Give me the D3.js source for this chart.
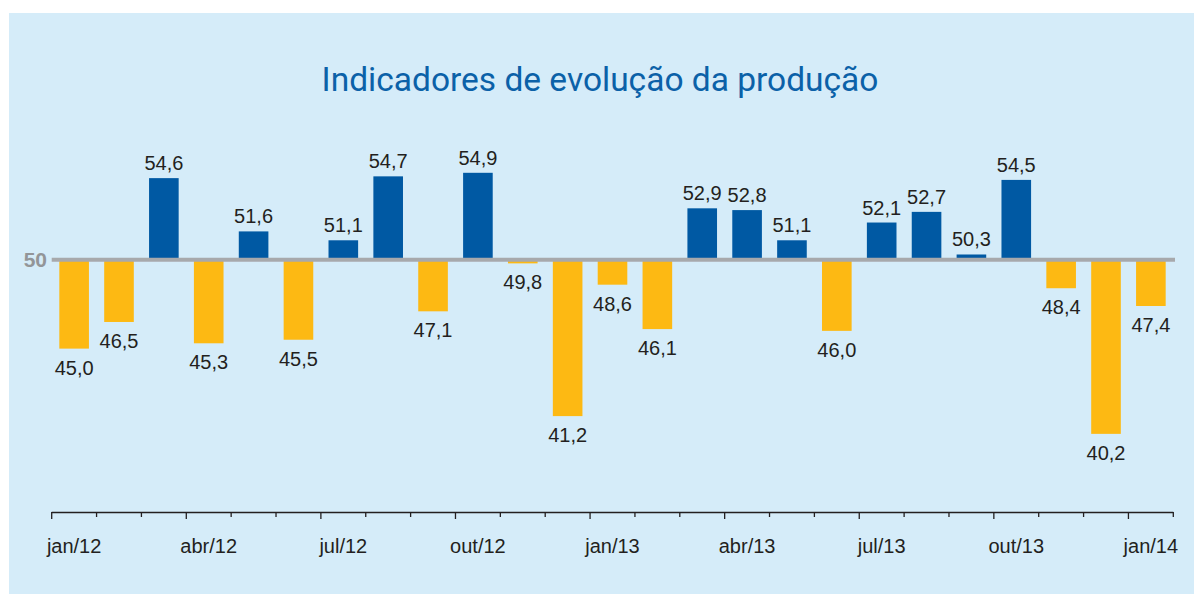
<!DOCTYPE html>
<html lang="pt">
<head>
  <meta charset="UTF-8">
  <title>Indicadores de evolução da produção</title>
  <script src="https://d3js.org/d3.v7.min.js"></script>
  <style>
    body { margin: 0; background: #fff; }
    svg { display: block; font-family: 'Liberation Sans', Arial, sans-serif; }
  </style>
</head>
<body>
  <div id="wrapper"></div>
  <script>
    const months = ["jan/12", "fev/12", "mar/12", "abr/12", "mai/12", "jun/12", "jul/12", "ago/12", "set/12",
      "out/12", "nov/12", "dez/12", "jan/13", "fev/13", "mar/13", "abr/13", "mai/13", "jun/13", "jul/13",
      "ago/13", "set/13", "out/13", "nov/13", "dez/13", "jan/14"]
    const values = [45.0, 46.5, 54.6, 45.3, 51.6, 45.5, 51.1, 54.7, 47.1, 54.9, 49.8, 41.2, 48.6,
      46.1, 52.9, 52.8, 51.1, 46.0, 52.1, 52.7, 50.3, 54.5, 48.4, 40.2, 47.4]
    const tickLabels = ["jan/12", "abr/12", "jul/12", "out/12", "jan/13", "abr/13", "jul/13", "out/13", "jan/14"]
    const baseline = 50

    const width = 1194
    const height = 594

    const svg = d3.select("#wrapper").append("svg")
      .attr("width", width)
      .attr("height", height)

    svg.append("rect")
      .attr("x", 9).attr("y", 13)
      .attr("width", width - 9).attr("height", height - 13)
      .attr("fill", "#d5ecf9")

    svg.append("text")
      .attr("x", 600).attr("y", 91)
      .attr("text-anchor", "middle")
      .attr("fill", "#0b61a8")
      .style("font-family", "Roboto, sans-serif")
      .style("font-size", "33.5px")
      .text("Indicadores de evolução da produção")

    const xScale = d3.scaleBand()
      .domain(months)
      .range([51.7, 1173.3])
      .paddingInner(0.34)
      .paddingOuter(0.17)

    const yScale = d3.scaleLinear()
      .domain([35.8, 54.9])
      .range([512, 172.8])

    const y50 = yScale(baseline)

    // bars
    svg.append("g").selectAll("rect")
      .data(values)
      .join("rect")
        .attr("x", (d, i) => xScale(months[i]))
        .attr("width", xScale.bandwidth())
        .attr("y", d => d >= baseline ? yScale(d) : y50)
        .attr("height", d => Math.abs(yScale(d) - y50))
        .attr("fill", d => d >= baseline ? "#0059a3" : "#fdb913")

    // line at 50
    svg.append("line")
      .attr("x1", 51.7).attr("x2", 1175)
      .attr("y1", y50).attr("y2", y50)
      .attr("stroke", "#a7a9ac")
      .attr("stroke-width", 4)

    svg.append("text")
      .attr("x", 47).attr("y", y50 + 7.5)
      .attr("text-anchor", "end")
      .attr("fill", "#939598")
      .style("font-weight", "bold")
      .style("font-size", "21px")
      .text(baseline)

    // value labels
    const fmt = d => d.toFixed(1).replace(".", ",")
    svg.append("g").selectAll("text")
      .data(values)
      .join("text")
        .attr("x", (d, i) => xScale(months[i]) + xScale.bandwidth() / 2)
        .attr("y", d => d >= baseline ? yScale(d) - 8 : yScale(d) + 26)
        .attr("text-anchor", "middle")
        .attr("fill", "#231f20")
        .style("font-size", "20px")
        .text(fmt)

    // x axis with ticks on band boundaries
    const step = xScale.step()
    const x0 = 51.7
    const axis = svg.append("g")
    axis.append("line")
      .attr("x1", x0).attr("x2", 1173.3)
      .attr("y1", 512.5).attr("y2", 512.5)
      .attr("stroke", "#231f20")
      .attr("stroke-width", 1.3)
    axis.selectAll(".tick")
      .data(d3.range(months.length + 1))
      .join("line")
        .attr("class", "tick")
        .attr("x1", i => x0 + i * step).attr("x2", i => x0 + i * step)
        .attr("y1", 512).attr("y2", i => i % 3 === 0 && i < months.length ? 519 : 517)
        .attr("stroke", "#231f20")
        .attr("stroke-width", 1.3)
    axis.selectAll(".lbl")
      .data(tickLabels)
      .join("text")
        .attr("class", "lbl")
        .attr("x", d => xScale(d) + xScale.bandwidth() / 2)
        .attr("y", 553)
        .attr("text-anchor", "middle")
        .attr("fill", "#231f20")
        .style("font-size", "20px")
        .text(d => d)
  </script>
</body>
</html>
